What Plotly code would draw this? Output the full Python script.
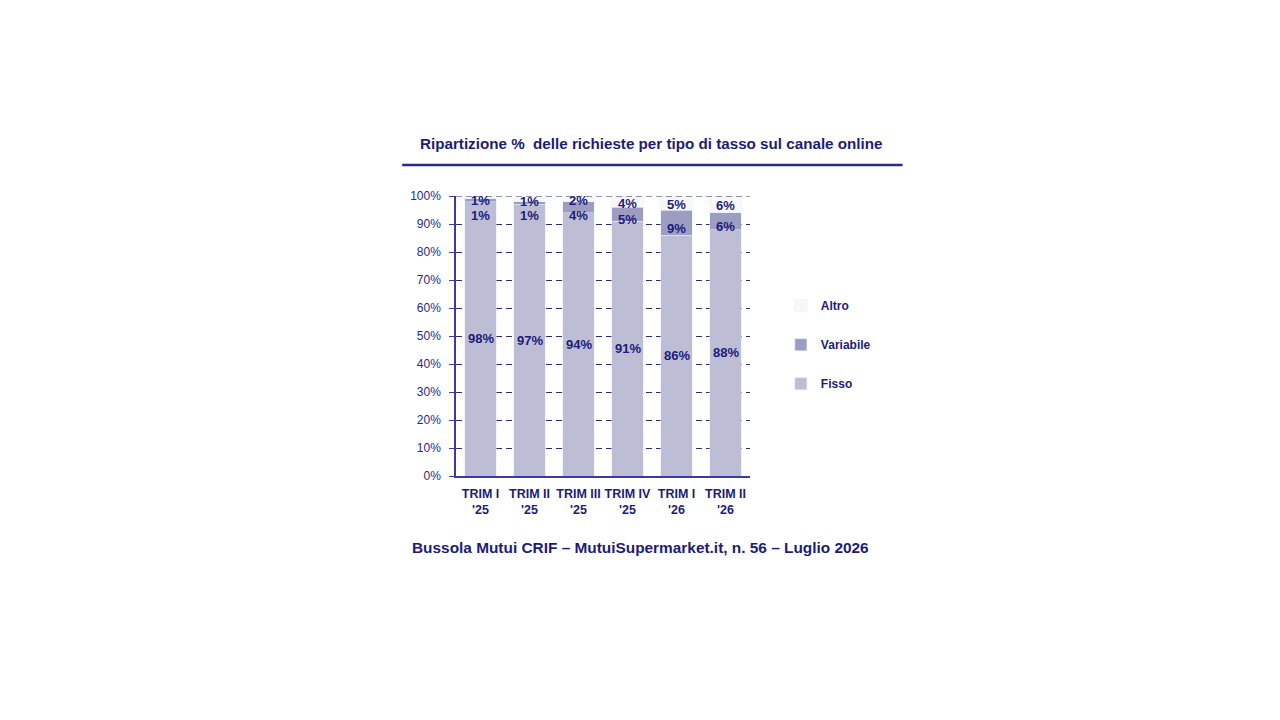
import plotly.graph_objects as go

# dati
trimestri = ["TRIM I<br>'25", "TRIM II<br>'25", "TRIM III<br>'25", "TRIM IV<br>'25", "TRIM I<br>'26", "TRIM II<br>'26"]
fisso = [98, 97, 94, 91, 86, 88]
variabile = [1, 1, 4, 5, 9, 6]
altro = [1, 1, 2, 4, 5, 6]

NAVY = "#1c1c7a"
FONT = "Liberation Sans"

fig = go.Figure()
fig.add_trace(go.Bar(x=trimestri, y=fisso, name="Fisso", marker_color="#bdbdd6",
                     legendgroup="f", legendrank=3))
fig.add_trace(go.Bar(x=trimestri, y=variabile, name="Variabile", marker_color="#9d9dc4",
                     legendgroup="v", legendrank=2))
fig.add_trace(go.Bar(x=trimestri, y=altro, name="Altro", marker_color="#f8f8fb",
                     legendgroup="a", legendrank=1))

# etichette dei valori
for i, q in enumerate(trimestri):
    f, v, a = fisso[i], variabile[i], altro[i]
    labels = [
        (f / 2, f),
        (min(f + v / 2, 95) - 2, v),
        (min(f + v + a / 2, 99) - 0.5, a),
    ]
    for y, val in labels:
        fig.add_annotation(x=q, y=y, text=f"<b>{val}%</b>", showarrow=False,
                           font=dict(family=FONT, size=13, color=NAVY))

# linea tratteggiata del 100% sopra le barre
fig.add_shape(type="line", xref="paper", yref="y", x0=0, x1=1, y0=100, y1=100, layer="above",
              line=dict(color="#2b2b7a", width=1, dash="6px,4px"))

fig.add_annotation(xref="paper", yref="paper", x=0.666, y=1.186, yanchor="middle",
                   text="<b>Ripartizione %  delle richieste per tipo di tasso sul canale online</b>",
                   showarrow=False, font=dict(family=FONT, size=15.2, color=NAVY))
fig.add_shape(type="line", xref="paper", yref="paper", x0=-0.183, x1=1.519, y0=1.111, y1=1.111,
              line=dict(color="#2b2b8c", width=2.5))
fig.add_annotation(xref="paper", yref="paper", x=0.627, y=-0.254, yanchor="middle",
                   text="<b>Bussola Mutui CRIF – MutuiSupermarket.it, n. 56 – Luglio 2026</b>",
                   showarrow=False, font=dict(family=FONT, size=15.4, color=NAVY))

fig.update_layout(
    barmode="stack",
    bargap=0.35,
    width=1280, height=720,
    margin=dict(l=448, r=538, t=188, b=252),
    plot_bgcolor="white", paper_bgcolor="white",
    font=dict(family=FONT, color=NAVY),
    legend=dict(x=1.105, y=0.66, xanchor="left", yanchor="top",
                tracegroupgap=20,
                font=dict(family=FONT, size=12, color=NAVY, weight="bold"),
                itemwidth=30),
    showlegend=True,
)
fig.update_yaxes(range=[0, 100], dtick=10, ticksuffix="%",
                 showgrid=True, gridcolor="#2b2b7a", griddash="6px,4px", gridwidth=1,
                 showline=True, linecolor="#3a3aa0", linewidth=1.5,
                 ticks="outside", ticklen=5, tickcolor="#3a3aa0", ticklabelstandoff=6,
                 tickfont=dict(family=FONT, size=12, color="#2a2a8a"), zeroline=False)
fig.update_xaxes(showline=True, linecolor="#3a3aa0", linewidth=2, ticklabelstandoff=5,
                 tickfont=dict(family=FONT, size=12.5, color=NAVY, weight="bold"))

fig.write_html("out.html")
